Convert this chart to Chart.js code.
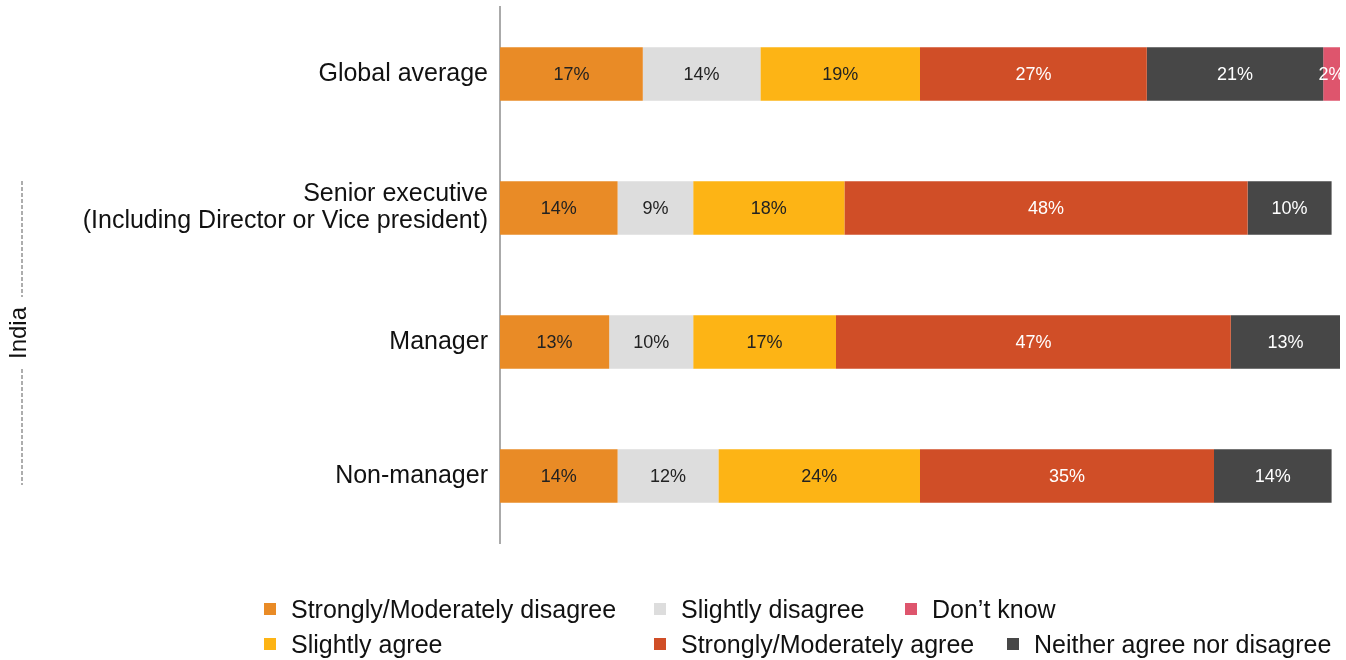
<!DOCTYPE html>
<html>
<head>
<meta charset="utf-8">
<script src="https://cdn.jsdelivr.net/npm/chart.js@4"></script>
<style>
  html, body { margin: 0; padding: 0; background: #fff; }
  #wrap { position: relative; width: 1346px; height: 660px; font-family: "Liberation Sans", Arial, Helvetica, sans-serif; }
  #chart { position: absolute; left: 0; top: 0; }
  .leg { position: absolute; display: flex; align-items: center; font-size: 25px; line-height: 26px; color: #111; white-space: nowrap; }
  .leg i { display: inline-block; width: 12px; height: 12px; margin-right: 15px; }
</style>
</head>
<body>
<div id="wrap">
  <canvas id="chart" width="1346" height="660"></canvas>
  <div id="legend"></div>
</div>
<script>
const categories = [
    'Global average',
    ['Senior executive', '(Including Director or Vice president)'],
    'Manager',
    'Non-manager'
];

const seriesNames = [
    'Strongly/Moderately disagree',
    'Slightly disagree',
    'Slightly agree',
    'Strongly/Moderately agree',
    'Neither agree nor disagree',
    "Don\u2019t know"
];

const stronglyDisagree = [17, 14, 13, 14];
const slightlyDisagree = [14, 9, 10, 12];
const slightlyAgree = [19, 18, 17, 24];
const stronglyAgree = [27, 48, 47, 35];
const neither = [21, 10, 13, 14];
const dontKnow = [2, null, null, null];

const seriesValues = [stronglyDisagree, slightlyDisagree, slightlyAgree, stronglyAgree, neither, dontKnow];
const colors = ['#E98B26', '#DDDDDD', '#FDB415', '#D04E27', '#474747', '#DE556D'];
const labelColors = ['#222', '#222', '#222', '#fff', '#fff', '#fff'];

// percentage text in the middle of each segment
const segmentLabels = {
    id: 'segmentLabels',
    afterDatasetsDraw(chart) {
        const ctx = chart.ctx;
        ctx.save();
        ctx.font = '18px "Liberation Sans", Arial, sans-serif';
        ctx.textAlign = 'center';
        ctx.textBaseline = 'middle';
        chart.data.datasets.forEach((ds, i) => {
            chart.getDatasetMeta(i).data.forEach((bar, j) => {
                const v = ds.data[j];
                if (!v) return;
                const p = bar.getCenterPoint();
                ctx.fillStyle = labelColors[i];
                ctx.fillText(v + '%', p.x, p.y + 1);
            });
        });
        ctx.restore();
    }
};

// vertical "India" group bracket on the left
const groupBracket = {
    id: 'groupBracket',
    afterDraw(chart) {
        const ctx = chart.ctx;
        const y = chart.scales.y;
        const top = y.getPixelForValue(1) - 27;
        const bottom = y.getPixelForValue(3) + 9;
        const mid = (top + bottom) / 2;
        const x = 22;
        ctx.save();
        ctx.strokeStyle = '#777';
        ctx.lineWidth = 1.2;
        ctx.setLineDash([4, 2]);
        ctx.beginPath();
        ctx.moveTo(x, top);
        ctx.lineTo(x, mid - 36);
        ctx.moveTo(x, mid + 36);
        ctx.lineTo(x, bottom);
        ctx.stroke();
        ctx.setLineDash([]);
        ctx.translate(x - 3, mid);
        ctx.rotate(-Math.PI / 2);
        ctx.fillStyle = '#111';
        ctx.font = '24px "Liberation Sans", Arial, sans-serif';
        ctx.textAlign = 'center';
        ctx.textBaseline = 'middle';
        ctx.fillText('India', 0, 0);
        ctx.restore();
    }
};

new Chart(document.getElementById('chart').getContext('2d'), {
    type: 'bar',
    data: {
        labels: categories,
        datasets: seriesNames.map((name, i) => ({
            label: name,
            data: seriesValues[i],
            backgroundColor: colors[i],
            borderWidth: 0,
            barPercentage: 0.4,
            categoryPercentage: 1
        }))
    },
    options: {
        indexAxis: 'y',
        responsive: false,
        animation: false,
        layout: { padding: { left: 0, right: 6, top: 7, bottom: 117 } },
        plugins: {
            legend: { display: false },
            tooltip: { enabled: false }
        },
        scales: {
            x: {
                stacked: true,
                min: 0,
                max: 100,
                display: false
            },
            y: {
                stacked: true,
                grid: { display: false },
                border: { display: true, color: '#aaaaaa', width: 2 },
                afterFit: s => {
                    s.width = 500;
                    s.paddingTop = 0;
                    s.paddingBottom = 0;
                },
                ticks: {
                    color: '#111',
                    padding: 4,
                    font: { family: '"Liberation Sans", Arial, sans-serif', size: 25, lineHeight: 1.08 }
                }
            }
        }
    },
    plugins: [segmentLabels, groupBracket]
});

// legend, two rows of three
const legendSpots = [
    [0, 264, 596], [1, 654, 596], [5, 905, 596],
    [2, 264, 631], [3, 654, 631], [4, 1007, 631]
];
const legend = document.getElementById('legend');
legendSpots.forEach(([i, left, top]) => {
    const d = document.createElement('div');
    d.className = 'leg';
    d.style.left = left + 'px';
    d.style.top = top + 'px';
    d.innerHTML = '<i style="background:' + colors[i] + '"></i>' + seriesNames[i];
    legend.appendChild(d);
});
</script>
</body>
</html>
